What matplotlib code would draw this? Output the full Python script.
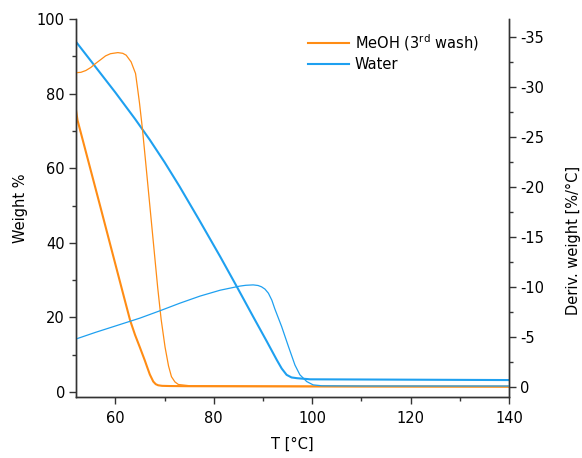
import numpy as np
import matplotlib
matplotlib.use('Agg')
import matplotlib.pyplot as plt

plt.rcParams['font.family'] = ['DejaVu Sans']
plt.rcParams['axes.unicode_minus'] = False

# MeOH (3rd wash): weight % and derivative
t_meoh_w = [52, 52.3, 53, 55, 57, 59, 61.8, 63, 64, 65, 66, 66.4, 67, 67.7,
            68.2, 68.7, 69.5, 71, 75, 90, 110, 140]
w_meoh = [75.6, 72.9, 69.4, 59.4, 49.4, 39.3, 25.2, 19.2, 15.3, 11.9, 8.4,
          6.9, 4.7, 2.8, 2.1, 1.8, 1.65, 1.6, 1.55, 1.5, 1.45, 1.4]

t_meoh_d = [52, 53, 54, 55, 56, 57, 58, 59, 60.5, 61.5, 62.2, 63.2, 64.1,
            64.5, 64.9, 65.5, 66.2, 67, 67.8, 68.6, 69.3, 70.1, 70.8, 71.4,
            72.1, 72.8, 75, 100, 140]
d_meoh = [-31.43, -31.47, -31.65, -31.95, -32.36, -32.73, -33.11, -33.33,
          -33.44, -33.37, -33.18, -32.51, -31.35, -29.90, -28.41, -25.80,
          -22.25, -18.15, -14.05, -9.94, -6.77, -3.98, -2.11, -1.03, -0.51,
          -0.25, -0.13, -0.08, -0.06]

# Water: weight % and derivative
t_water_w = [52, 56, 60, 64, 67, 70, 73, 77, 81.3, 84.7, 88, 90.8, 92.8,
             93.8, 94.8, 95.8, 96.9, 99.6, 110, 140]
w_water = [93.9, 87.1, 80.3, 73.2, 67.6, 61.6, 55.2, 46.2, 36.3, 28.2, 20.2,
           13.5, 8.6, 6.3, 4.6, 3.9, 3.7, 3.4, 3.35, 3.2]

t_water_d = [52, 56, 60, 65, 69.1, 73.1, 77.2, 81.3, 85.3, 86.5, 88, 89,
             89.7, 90.4, 91.1, 91.8, 92.4, 93.8, 95.2, 96.5, 97.5, 98.9,
             100.2, 102, 110, 140]
d_water = [-4.80, -5.47, -6.10, -6.89, -7.63, -8.38, -9.09, -9.68, -10.09,
           -10.17, -10.21, -10.15, -10.02, -9.79, -9.38, -8.68, -7.82, -6.03,
           -4.01, -2.19, -1.22, -0.54, -0.21, -0.12, -0.10, -0.10]

orange = '#ff8c14'
blue = '#1ea0f0'
spine_c = '#333333'

fig = plt.figure(figsize=(5.82, 4.58), dpi=100)
fig.subplots_adjust(left=0.1306, right=0.8746, bottom=0.1332, top=0.9585)
ax = fig.add_subplot(111)
ax2 = ax.twinx()

l1, = ax.plot(t_meoh_w, w_meoh, color=orange, lw=1.5, label=r'MeOH (3$^{\mathrm{rd}}$ wash)')
l2, = ax.plot(t_water_w, w_water, color=blue, lw=1.5, label='Water')
ax2.plot(t_meoh_d, d_meoh, color=orange, lw=0.9)
ax2.plot(t_water_d, d_water, color=blue, lw=0.9)

ax.set_xlim(52, 140)
ax.set_ylim(-1.34, 100)
ax2.set_ylim(1.0, -36.8)

ax.set_xticks([60, 80, 100, 120, 140])
ax.set_xticks([70, 90, 110, 130], minor=True)
ax.set_yticks([0, 20, 40, 60, 80, 100])
ax.set_yticks([10, 30, 50, 70, 90], minor=True)
ax2.set_yticks([0, -5, -10, -15, -20, -25, -30, -35])
ax2.set_yticks(np.arange(-2.5, -36, -5), minor=True)

for a in (ax, ax2):
    a.spines['top'].set_visible(False)
    for s in a.spines.values():
        s.set_color(spine_c)
        s.set_linewidth(1.0)
    a.tick_params(which='major', direction='out', length=5, width=1.0,
                  color=spine_c, labelsize=10.5, pad=3)
    a.tick_params(which='minor', direction='out', length=3, width=1.0,
                  color=spine_c)
ax.tick_params(axis='x', pad=5)

ax.set_xlabel('T [°C]', fontsize=10.5, labelpad=8)
ax.set_ylabel('Weight %', fontsize=10.5)
ax.yaxis.set_label_coords(-0.11, 0.5)
ax2.set_ylabel('Deriv. weight [%/°C]', fontsize=10.5)
ax2.yaxis.set_label_coords(1.132, 0.413)

ax.legend(handles=[l1, l2], loc='upper left', bbox_to_anchor=(0.506, 1.0),
          frameon=False, fontsize=10.5, handlelength=2.8, handletextpad=0.4,
          labelspacing=0.3)

fig.savefig('out.png', dpi=100)
